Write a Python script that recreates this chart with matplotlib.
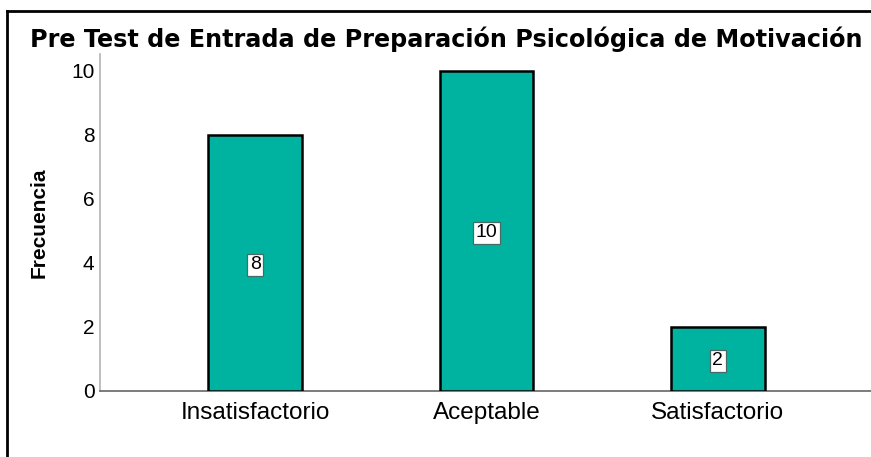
import matplotlib
matplotlib.use("Agg")
import matplotlib.pyplot as plt
from matplotlib.lines import Line2D

categories = ["Insatisfactorio", "Aceptable", "Satisfactorio"]
values = [8, 10, 2]
yticks = [0, 2, 4, 6, 8, 10]
title = "Pre Test de Entrada de Preparación Psicológica de Motivación"
ylabel = "Frecuencia"

plt.rcParams['font.family'] = ['Liberation Sans', 'DejaVu Sans']

W, H = 871, 457
fig = plt.figure(figsize=(W / 100, H / 100), dpi=100)
ax = fig.add_axes([100 / W, 1 - 391 / H, 773 / W, (391 - 54) / H])

x = list(range(len(categories)))
ax.bar(x, values, width=0.406, color="#00b3a0", edgecolor="black", linewidth=1.8, zorder=3)
for xi, v in zip(x, values):
    ax.text(xi, v / 2, str(v), ha="center", va="center_baseline", fontsize=14, color="black",
            bbox=dict(boxstyle="square,pad=0.12", facecolor="white", edgecolor="#4a6a66", linewidth=0.9),
            zorder=4)

ax.set_xlim(-0.67, 2.67)
ax.set_ylim(0, 10.53)
ax.set_yticks(yticks)
ax.set_xticks(x)
ax.set_xticklabels(categories, fontsize=17.5)
ax.set_yticklabels([str(t) for t in yticks], fontsize=15)
ax.tick_params(axis='y', length=0, pad=4)
ax.tick_params(axis='x', length=0, pad=8)
for s in ["top", "right"]:
    ax.spines[s].set_visible(False)
ax.spines["left"].set_color("#b4b4b4")
ax.spines["left"].set_linewidth(1.2)
ax.spines["bottom"].set_color("#666666")
ax.spines["bottom"].set_linewidth(1.2)
ax.set_ylabel(ylabel, fontsize=15, fontweight="bold", labelpad=16)

fig.text(446.5 / W, 1 - 47 / H, title, ha="center", va="baseline", fontsize=17.2,
         fontweight="bold", family=["DejaVu Sans"])

fig.add_artist(Line2D([7 / W, 1.0], [1 - 11 / H, 1 - 11 / H], transform=fig.transFigure, color="black", linewidth=2))
fig.add_artist(Line2D([7 / W, 7 / W], [0, 1 - 11 / H], transform=fig.transFigure, color="black", linewidth=2))

fig.savefig("out.png", dpi=100)
